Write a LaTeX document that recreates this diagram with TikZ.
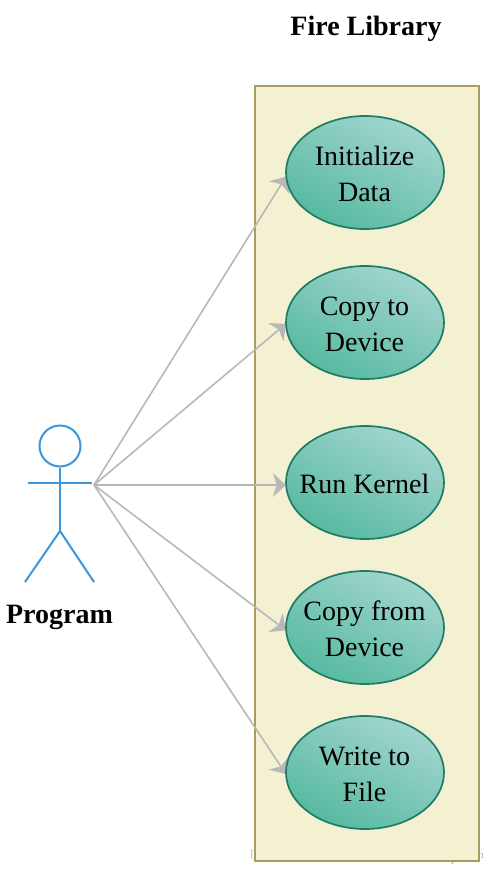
\documentclass[tikz,border=0pt]{standalone}
\usepackage{fontspec}
\setmainfont{Liberation Serif}
\usetikzlibrary{arrows.meta,shapes.geometric}
\definecolor{boxfill}{HTML}{F4F0D2}
\definecolor{boxline}{HTML}{A69D5F}
\definecolor{ucline}{HTML}{1E7B66}
\definecolor{uclight}{HTML}{A2D5CF}
\definecolor{ucdark}{HTML}{56BA9F}
\definecolor{actorc}{HTML}{3A97DD}
\definecolor{linkc}{HTML}{B8B8B8}
\tikzset{
  ucanchor/.style={ellipse,minimum width=158pt,minimum height=113pt,inner sep=0pt},
  usecase/.style={ucanchor,draw=ucline,line width=1.7pt,top color=uclight,bottom color=ucdark,shading angle=-28},
  uctext/.style={align=center,inner sep=0pt,font=\fontsize{28}{36}\selectfont,yshift=-1.5pt,xshift=-0.5pt},
  libbox/.style={draw=boxline,line width=1.5pt,fill=boxfill,minimum width=224pt,minimum height=775pt,inner sep=0pt},
  actorline/.style={draw=actorc,line width=2pt},
  link/.style={draw=linkc,line width=1.6pt,-{Stealth[length=13pt,width=24pt,inset=4pt]}},
  heading/.style={font=\fontsize{28}{34}\selectfont\bfseries,inner sep=0pt},
  faint/.style={text=black!30,font=\fontsize{11}{11}\selectfont,inner sep=0pt}
}
\begin{document}
\begin{tikzpicture}[x=1pt,y=-1pt]
\useasboundingbox (0,0) rectangle (489,869);
\node[faint] (wa) at (252.5,854) {[};
\node[faint] (wb) at (481,855) {h};
\draw[orange!60,line width=1.5pt] (455,858) -- (452,864);
\node[libbox] (lib) at (367,473.5) {};
\node[heading] (title) at (366,29) {Fire Library};
\node[ucanchor] (e1) at (365,172.5) {};
\node[ucanchor] (e2) at (365,322.5) {};
\node[ucanchor] (e3) at (365,482.5) {};
\node[ucanchor] (e4) at (365,627.5) {};
\node[ucanchor] (e5) at (365,772.5) {};
\coordinate (hand) at (94,485);
\draw[link] (hand) -- (e1.183);
\draw[link] (hand) -- (e2.181);
\draw[link] (hand) -- (hand -| e3.west);
\draw[link] (hand) -- (e4.182);
\draw[link] (hand) -- (e5.181);
\node[usecase] (u1) at (e1) {};
\node[usecase] (u2) at (e2) {};
\node[usecase] (u3) at (e3) {};
\node[usecase] (u4) at (e4) {};
\node[usecase] (u5) at (e5) {};
\node[uctext] (t1) at (u1) {Initialize\\Data};
\node[uctext] (t2) at (u2) {Copy to\\Device};
\node[uctext] (t3) at (u3) {Run Kernel};
\node[uctext] (t4) at (u4) {Copy from\\Device};
\node[uctext] (t5) at (u5) {Write to\\File};
\node[circle,actorline,minimum size=41pt,inner sep=0pt] (head) at (60,446) {};
\coordinate (hip) at (60,531);
\coordinate (armL) at (28,483);
\coordinate (armR) at (92,483);
\coordinate (footL) at (25,582);
\coordinate (footR) at (94,582);
\draw[actorline] (head.south) -- (hip);
\draw[actorline] (armL) -- (armR);
\draw[actorline] (footL) -- (hip) -- (footR);
\node[heading] (prog) at (59.5,617) {Program};
\end{tikzpicture}
\end{document}
